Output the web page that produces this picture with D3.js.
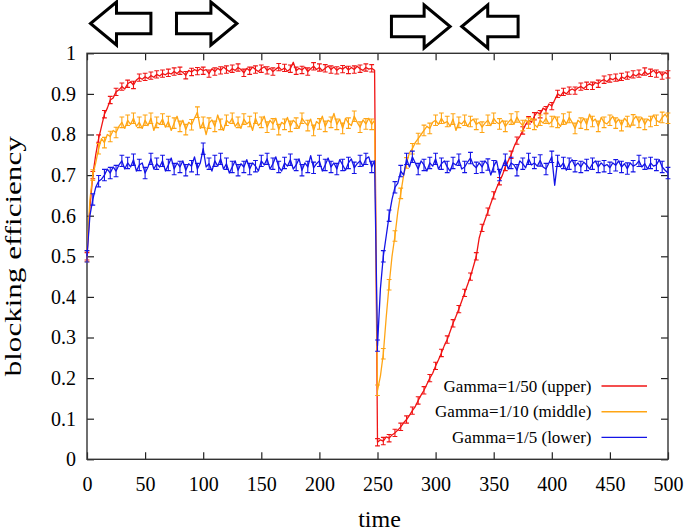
<!DOCTYPE html>
<html><head><meta charset="utf-8">
<script src="https://cdn.jsdelivr.net/npm/d3@7"></script>
<style>body{margin:0;background:#fff}text{font-family:"Liberation Serif","Times New Roman",serif;fill:#000}</style>
</head><body>
<svg id="c" width="685" height="531"></svg>
<script>
const timeStep = 2.5;
const redVals = [
0.50,0.62,0.70,0.75,0.79,0.82,0.85,0.865,0.885,0.89,
0.905,0.91,0.918,0.912,0.925,0.93,0.922,0.934,0.94,0.936,
0.942,0.938,0.945,0.941,0.948,0.944,0.95,0.947,0.952,0.949,
0.955,0.95,0.957,0.953,0.946,0.958,0.954,0.96,0.956,0.962,
0.957,0.96,0.95,0.962,0.955,0.963,0.958,0.966,0.96,0.955,
0.962,0.958,0.965,0.96,0.952,0.963,0.957,0.966,0.96,0.955,
0.962,0.967,0.958,0.963,0.955,0.961,0.966,0.959,0.964,0.956,
0.962,0.978,0.957,0.963,0.959,0.966,0.955,0.962,0.968,0.96,
0.965,0.957,0.963,0.969,0.96,0.966,0.958,0.964,0.961,0.967,
0.959,0.965,0.96,0.968,0.962,0.958,0.965,0.961,0.963,0.958,
0.042,0.048,0.045,0.055,0.052,0.06,0.065,0.072,0.08,0.09,
0.098,0.108,0.12,0.13,0.145,0.158,0.17,0.185,0.2,0.212,
0.23,0.245,0.262,0.28,0.295,0.315,0.335,0.352,0.37,0.39,
0.41,0.43,0.45,0.475,0.50,0.545,0.57,0.59,0.61,0.63,
0.65,0.668,0.685,0.70,0.72,0.735,0.75,0.77,0.785,0.795,
0.81,0.825,0.835,0.83,0.845,0.855,0.85,0.865,0.86,0.875,
0.87,0.885,0.9,0.895,0.905,0.9,0.908,0.912,0.908,0.915,
0.918,0.913,0.92,0.925,0.92,0.928,0.925,0.932,0.935,0.93,
0.938,0.935,0.94,0.932,0.942,0.938,0.945,0.94,0.948,0.944,
0.95,0.946,0.955,0.948,0.952,0.958,0.95,0.955,0.945,0.953,
0.948];
const orangeVals = [
0.50,0.64,0.70,0.73,0.765,0.79,0.78,0.80,0.795,0.81,
0.805,0.82,0.83,0.815,0.835,0.825,0.84,0.82,0.83,0.815,
0.835,0.822,0.84,0.81,0.83,0.825,0.838,0.818,0.832,0.81,
0.828,0.845,0.82,0.835,0.812,0.83,0.824,0.84,0.855,0.815,
0.83,0.80,0.828,0.836,0.82,0.848,0.825,0.81,0.835,0.828,
0.84,0.82,0.83,0.815,0.838,0.826,0.832,0.81,0.84,0.822,
0.83,0.845,0.818,0.835,0.826,0.84,0.812,0.83,0.825,0.842,
0.82,0.835,0.828,0.815,0.84,0.83,0.822,0.838,0.81,0.832,
0.826,0.845,0.82,0.835,0.83,0.852,0.825,0.838,0.815,0.84,
0.828,0.822,0.845,0.83,0.818,0.836,0.826,0.84,0.825,0.835,
0.17,0.205,0.26,0.35,0.43,0.50,0.55,0.61,0.655,0.70,
0.73,0.755,0.765,0.78,0.79,0.80,0.81,0.82,0.815,0.83,
0.835,0.825,0.84,0.828,0.832,0.82,0.838,0.81,0.83,0.826,
0.835,0.82,0.832,0.838,0.825,0.83,0.818,0.828,0.835,0.822,
0.84,0.83,0.826,0.835,0.82,0.83,0.838,0.825,0.843,0.83,
0.822,0.836,0.828,0.84,0.825,0.818,0.835,0.828,0.84,0.826,
0.832,0.845,0.83,0.82,0.838,0.826,0.842,0.83,0.815,0.835,
0.828,0.84,0.825,0.85,0.832,0.838,0.82,0.842,0.83,0.826,
0.835,0.845,0.828,0.838,0.822,0.84,0.832,0.818,0.836,0.845,
0.83,0.842,0.825,0.838,0.832,0.848,0.835,0.83,0.842,0.85,
0.84];
const blueVals = [
0.50,0.60,0.64,0.67,0.685,0.69,0.70,0.715,0.705,0.72,
0.71,0.725,0.735,0.715,0.73,0.72,0.738,0.71,0.725,0.73,
0.705,0.72,0.74,0.715,0.728,0.72,0.735,0.71,0.725,0.742,
0.715,0.73,0.72,0.735,0.712,0.728,0.722,0.745,0.715,0.73,
0.765,0.72,0.728,0.71,0.735,0.722,0.74,0.715,0.728,0.705,
0.72,0.735,0.712,0.728,0.72,0.738,0.715,0.73,0.722,0.71,
0.735,0.725,0.74,0.715,0.728,0.745,0.72,0.71,0.73,0.722,
0.738,0.715,0.725,0.74,0.712,0.73,0.72,0.748,0.718,0.728,
0.735,0.71,0.725,0.742,0.72,0.73,0.715,0.738,0.725,0.712,
0.73,0.74,0.718,0.728,0.735,0.722,0.74,0.745,0.72,0.735,
0.28,0.42,0.50,0.55,0.60,0.64,0.67,0.68,0.71,0.70,
0.74,0.72,0.745,0.73,0.715,0.735,0.725,0.71,0.73,0.722,
0.74,0.715,0.728,0.735,0.72,0.71,0.73,0.725,0.738,0.715,
0.72,0.732,0.742,0.725,0.718,0.73,0.72,0.735,0.726,0.70,
0.722,0.735,0.70,0.72,0.738,0.715,0.73,0.725,0.712,0.735,
0.728,0.718,0.74,0.725,0.73,0.722,0.736,0.72,0.715,0.73,
0.745,0.675,0.735,0.72,0.73,0.712,0.728,0.738,0.722,0.73,
0.72,0.732,0.725,0.715,0.728,0.735,0.72,0.73,0.722,0.726,
0.718,0.73,0.724,0.735,0.72,0.728,0.716,0.73,0.722,0.726,
0.735,0.72,0.728,0.715,0.73,0.722,0.725,0.738,0.72,0.712,
0.705];
const seriesNames = ["Gamma=1/50 (upper)", "Gamma=1/10 (middle)", "Gamma=1/5 (lower)"];
const seriesColors = ["#f01414", "#ffa514", "#1414e6"];
const errHalf = [0.009, 0.013, 0.014];
const xTicks = [0,50,100,150,200,250,300,350,400,450,500];
const yTicks = [0,0.1,0.2,0.3,0.4,0.5,0.6,0.7,0.8,0.9,1];
const yTickLabels = ["0","0.1","0.2","0.3","0.4","0.5","0.6","0.7","0.8","0.9","1"];
// arrows: tail time, tip time, center y (px)
const arrows = [{tail:55,tip:3,cy:23.5},{tail:77,tip:129,cy:23.5},{tail:262,tip:312.5,cy:26.5},{tail:371,tip:322.5,cy:26.5}];

const svg = d3.select("#c");
const L = 87, R = 668, T = 53.3, B = 459.3;
const x = d3.scaleLinear().domain([0,500]).range([L,R]);
const y = d3.scaleLinear().domain([0,1]).range([B,T]);

const allSeries = [redVals, orangeVals, blueVals].map((vals,k)=>({
  name: seriesNames[k], color: seriesColors[k], err: errHalf[k],
  pts: vals.map((v,i)=>({t:i*timeStep, v}))
}));

// axes
const tk = 7;
const gx = svg.append("g").attr("transform",`translate(0,${B})`)
  .call(d3.axisBottom(x).tickValues(xTicks).tickSizeInner(-tk).tickSizeOuter(0).tickPadding(18).tickFormat(d3.format("d")));
const gy = svg.append("g").attr("transform",`translate(${L},0)`)
  .call(d3.axisLeft(y).tickValues(yTicks).tickSizeInner(-tk).tickSizeOuter(0).tickPadding(11).tickFormat((d,i)=>yTickLabels[i]));
const gt = svg.append("g").attr("transform",`translate(0,${T})`)
  .call(d3.axisTop(x).tickValues(xTicks).tickSizeInner(-tk).tickSizeOuter(0).tickFormat(""));
const gr = svg.append("g").attr("transform",`translate(${R},0)`)
  .call(d3.axisRight(y).tickValues(yTicks).tickSizeInner(-tk).tickSizeOuter(0).tickFormat(""));
[gx,gy,gt,gr].forEach(g=>{
  g.select(".domain").remove();
  g.selectAll("line").attr("stroke","#222").attr("stroke-width",1.2);
  g.selectAll("text").attr("font-family",'"Liberation Serif",serif').attr("font-size",20).attr("fill","#000");
});
svg.append("rect").attr("x",L).attr("y",T).attr("width",R-L).attr("height",B-T)
  .attr("fill","none").attr("stroke","#333").attr("stroke-width",1.4);

// series
const line = d3.line().x(d=>x(d.t)).y(d=>y(d.v));
allSeries.forEach(s=>{
  const g = svg.append("g");
  g.append("path").datum(s.pts).attr("d",line).attr("fill","none")
    .attr("stroke",s.color).attr("stroke-width",1.3).attr("stroke-linejoin","round");
  const eb = s.pts.filter((d,i)=>i%2===0);
  g.selectAll("path.eb").data(eb).enter().append("path").attr("class","eb")
    .attr("d",d=>{const px=x(d.t), y1=y(d.v-s.err), y2=y(d.v+s.err);
      return `M${px},${y1}V${y2}M${px-2.4},${y1}H${px+2.4}M${px-2.4},${y2}H${px+2.4}`;})
    .attr("fill","none").attr("stroke",s.color).attr("stroke-width",1.1);
});

// legend
const lg = svg.append("g");
allSeries.forEach((s,k)=>{
  const yy = 386 + k*25.7;
  lg.append("text").attr("x",591.5).attr("y",yy).attr("dy","0.33em").attr("text-anchor","end")
    .attr("font-size",17).text(s.name);
  lg.append("line").attr("x1",601.5).attr("x2",647).attr("y1",yy).attr("y2",yy)
    .attr("stroke",s.color).attr("stroke-width",1.4);
});

// axis titles
svg.append("text").attr("x",(L+R)/2+2).attr("y",527).attr("text-anchor","middle").attr("font-size",24).text("time");
svg.append("text").attr("transform",`translate(21,${(T+B)/2}) rotate(-90)`).attr("text-anchor","middle")
  .attr("font-size",24).attr("textLength",240).attr("lengthAdjust","spacingAndGlyphs").text("blocking efficiency");

// arrows
const headLen = 26, headHalf = 21.5, shaftHalf = 10.3;
arrows.forEach(a=>{
  const tipX = x(a.tip), tailX = x(a.tail), dir = Math.sign(a.tip - a.tail);
  const baseX = tipX - dir*headLen, cy = a.cy;
  const pts = [[tailX,cy-shaftHalf],[baseX,cy-shaftHalf],[baseX,cy-headHalf],[tipX,cy],
               [baseX,cy+headHalf],[baseX,cy+shaftHalf],[tailX,cy+shaftHalf]];
  svg.append("path").attr("d","M"+pts.map(p=>p.join(",")).join("L")+"Z")
    .attr("fill","#fff").attr("stroke","#000").attr("stroke-width",3).attr("stroke-linejoin","miter");
});
</script>
</body></html>
